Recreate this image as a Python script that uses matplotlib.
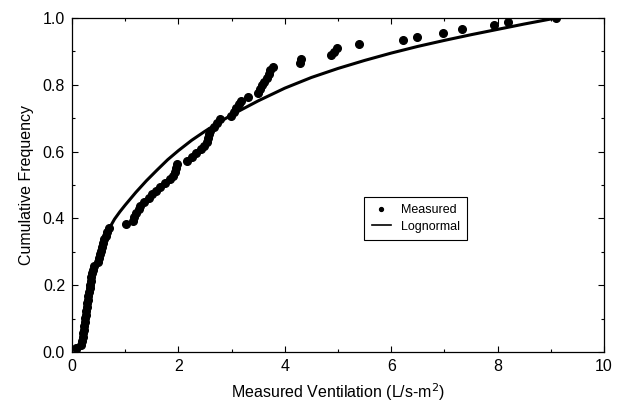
import matplotlib
matplotlib.use("Agg")
import matplotlib.pyplot as plt
from matplotlib.lines import Line2D
from matplotlib.ticker import MultipleLocator

plt.rcParams['font.family'] = ['Liberation Sans', 'DejaVu Sans']

# Measured data (empirical cumulative frequency)
measured_x = [0.08, 0.17, 0.19, 0.20, 0.21, 0.22, 0.23, 0.24, 0.25, 0.26, 0.27,
              0.28, 0.29, 0.30, 0.31, 0.32, 0.33, 0.34, 0.35, 0.36, 0.37, 0.39,
              0.42, 0.48, 0.51, 0.53, 0.55, 0.57, 0.59, 0.61, 0.63, 0.66, 0.69,
              1.02, 1.15, 1.17, 1.21, 1.25, 1.28, 1.35, 1.45, 1.50, 1.58, 1.66,
              1.75, 1.84, 1.89, 1.93, 1.96, 1.98, 2.16, 2.26, 2.34, 2.42, 2.49,
              2.53, 2.55, 2.58, 2.60, 2.66, 2.72, 2.78, 2.98, 3.05, 3.08, 3.13,
              3.18, 3.31, 3.50, 3.54, 3.57, 3.60, 3.66, 3.70, 3.73, 3.77,
              4.29, 4.31, 4.86, 4.92, 4.98, 5.40, 6.23, 6.48, 6.97, 7.34, 7.93,
              8.20, 9.10]
measured_y = [0.011, 0.022, 0.034, 0.045, 0.056, 0.067, 0.079, 0.090, 0.101, 0.112,
              0.124, 0.135, 0.146, 0.157, 0.169, 0.180, 0.191, 0.202, 0.213, 0.225,
              0.236, 0.247, 0.258, 0.270, 0.281, 0.292, 0.303, 0.315, 0.326, 0.337,
              0.348, 0.360, 0.371, 0.382, 0.393, 0.404, 0.416, 0.427, 0.438, 0.449,
              0.461, 0.472, 0.483, 0.494, 0.506, 0.517, 0.528, 0.539, 0.551, 0.562,
              0.573, 0.584, 0.596, 0.607, 0.618, 0.629, 0.640, 0.652, 0.663, 0.674,
              0.685, 0.697, 0.708, 0.719, 0.730, 0.742, 0.753, 0.764, 0.775, 0.787,
              0.798, 0.809, 0.820, 0.831, 0.843, 0.854, 0.865, 0.876, 0.888, 0.899,
              0.910, 0.921, 0.933, 0.944, 0.955, 0.966, 0.978, 0.989, 1.000]

# Lognormal fitted curve
curve_x = [0.13, 0.16, 0.20, 0.25, 0.30, 0.35, 0.40, 0.50, 0.60, 0.70, 0.80, 0.90,
           1.00, 1.20, 1.40, 1.60, 1.80, 2.00, 2.25, 2.50, 2.75, 3.00, 3.50, 4.00,
           4.50, 5.00, 5.50, 6.00, 6.50, 7.00, 7.50, 8.00, 8.50, 9.10]
curve_y = [0.0, 0.02, 0.06, 0.115, 0.16, 0.20, 0.235, 0.29, 0.335, 0.37, 0.398, 0.42,
           0.44, 0.478, 0.513, 0.545, 0.576, 0.603, 0.634, 0.661, 0.686, 0.71, 0.752,
           0.79, 0.822, 0.849, 0.873, 0.895, 0.915, 0.933, 0.950, 0.966, 0.982, 1.0]

x_ticks = [0, 2, 4, 6, 8, 10]
y_ticks = [0.0, 0.2, 0.4, 0.6, 0.8, 1.0]

fig = plt.figure(figsize=(6.25, 4.04), dpi=100)
ax = fig.add_axes([0.1152, 0.1287, 0.8512, 0.8267])

ax.plot(curve_x, curve_y, color='black', linewidth=2.2, solid_capstyle='round',
        solid_joinstyle='round', zorder=2)
ax.plot(measured_x, measured_y, linestyle='none', marker='o', markersize=5.5,
        color='black', zorder=3)

ax.set_xlim(0, 10)
ax.set_ylim(0, 1.0)
ax.set_xticks(x_ticks)
ax.set_xticklabels([str(t) for t in x_ticks])
ax.set_yticks(y_ticks)
ax.set_yticklabels(['%.1f' % t for t in y_ticks])
ax.xaxis.set_minor_locator(MultipleLocator(1))
ax.yaxis.set_minor_locator(MultipleLocator(0.1))
ax.tick_params(which='both', direction='in', top=True, right=True, width=0.8,
               labelsize=11.5, pad=5)
ax.tick_params(which='major', length=4)
ax.tick_params(which='minor', length=2.5)
for s in ax.spines.values():
    s.set_linewidth(0.9)

ax.set_xlabel('Measured Ventilation (L/s-m$^2$)', fontsize=11.5, labelpad=5)
ax.set_ylabel('Cumulative Frequency', fontsize=11.5, labelpad=6)

handles = [Line2D([], [], linestyle='none', marker='o', markersize=2.8, color='black'),
           Line2D([], [], color='black', linewidth=1.2)]
leg = ax.legend(handles, ['Measured', 'Lognormal'], loc='center',
                bbox_to_anchor=(0.646, 0.40), fontsize=9, frameon=True,
                fancybox=False, edgecolor='black', framealpha=1,
                handlelength=1.5, handletextpad=0.8, borderpad=0.6,
                labelspacing=0.35, borderaxespad=0)
leg.get_frame().set_linewidth(0.8)

fig.savefig('out.png', dpi=100)
